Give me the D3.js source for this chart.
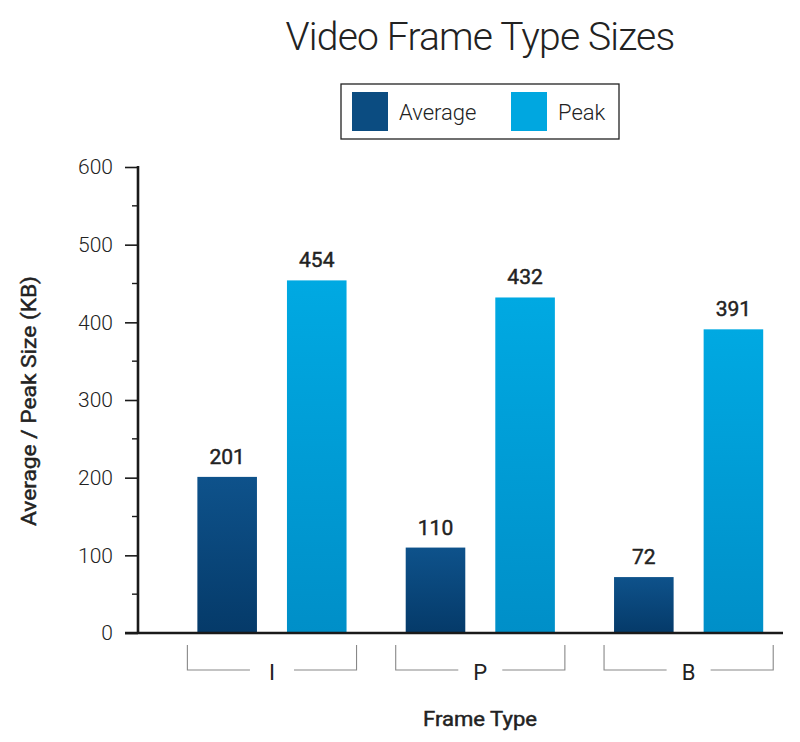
<!DOCTYPE html>
<html>
<head>
<meta charset="utf-8">
<script src="https://cdn.jsdelivr.net/npm/d3@7"></script>
<style>
  html, body { margin: 0; padding: 0; background: #fff; }
  svg text { font-family: "Roboto", "Open Sans", sans-serif; fill: #222; }
  svg text.medium { font-weight: 400; stroke: #222; stroke-width: 0.45px; }
</style>
</head>
<body>
<div id="chart"></div>
<script>
// Video frame type sizes - grouped bar chart
const categories = ['I', 'P', 'B'];
const seriesNames = ['Average', 'Peak'];
const averageValues = [201, 110, 72];
const peakValues = [454, 432, 391];
const yTicks = [0, 100, 200, 300, 400, 500, 600];

(function () {
    const width = 800, height = 742;
    const left = 138, right = 783, top = 167, bottom = 633;

    const svg = d3.select('#chart').append('svg')
        .attr('width', width)
        .attr('height', height);

    const defs = svg.append('defs');
    const grads = [
        { id: 'grad-avg', top: '#0e528b', bottom: '#053a69' },
        { id: 'grad-peak', top: '#00a9e2', bottom: '#008fc8' }
    ];
    grads.forEach(g => {
        const lg = defs.append('linearGradient')
            .attr('id', g.id)
            .attr('x1', 0).attr('y1', 0).attr('x2', 0).attr('y2', 1);
        lg.append('stop').attr('offset', '0%').attr('stop-color', g.top);
        lg.append('stop').attr('offset', '100%').attr('stop-color', g.bottom);
    });

    const rows = categories.map((c, i) => ({
        cat: c,
        values: [
            { key: 'Average', value: averageValues[i] },
            { key: 'Peak', value: peakValues[i] }
        ]
    }));

    const y = d3.scaleLinear().domain([0, 600]).range([bottom, top]);

    const x0 = d3.scaleBand()
        .domain(categories)
        .range([left, right])
        .paddingInner(0.284)
        .paddingOuter(0.19)
        .align(0.75);

    const x1 = d3.scaleBand()
        .domain(seriesNames)
        .range([0, x0.bandwidth()])
        .paddingInner(0.335);

    // title
    svg.append('text')
        .attr('x', 480).attr('y', 50)
        .attr('text-anchor', 'middle')
        .attr('font-size', 39)
        .attr('font-weight', 300)
        .attr('letter-spacing', -0.8)
        .text('Video Frame Type Sizes');

    // legend
    const legend = svg.append('g');
    legend.append('rect')
        .attr('x', 341).attr('y', 84)
        .attr('width', 278).attr('height', 55)
        .attr('fill', '#fff').attr('stroke', '#222').attr('stroke-width', 1.3);
    const legendItems = [
        { name: 'Average', color: '#0b4c81', x: 352 },
        { name: 'Peak', color: '#00a7e0', x: 511 }
    ];
    legendItems.forEach(d => {
        legend.append('rect')
            .attr('x', d.x).attr('y', 92)
            .attr('width', 36).attr('height', 39)
            .attr('fill', d.color);
        legend.append('text')
            .attr('x', d.x + 47).attr('y', 120)
            .attr('font-size', 22)
            .attr('font-weight', 300)
            .text(d.name);
    });

    // y axis
    const yAxis = d3.axisLeft(y)
        .tickValues(yTicks)
        .tickSize(13)
        .tickPadding(12)
        .tickFormat(d3.format('d'));
    const yg = svg.append('g')
        .attr('transform', `translate(${left},0)`)
        .call(yAxis);
    yg.select('.domain').remove();
    yg.selectAll('.tick line').attr('stroke', '#1a1a1a').attr('stroke-width', 1.6);
    yg.selectAll('.tick text')
        .attr('font-family', 'Roboto, sans-serif')
        .attr('font-size', 21)
        .attr('font-weight', 300)
        .attr('fill', '#222');

    const minor = d3.range(50, 600, 100);
    svg.append('g').selectAll('line')
        .data(minor)
        .join('line')
        .attr('x1', left - 6).attr('x2', left)
        .attr('y1', d => y(d)).attr('y2', d => y(d))
        .attr('stroke', '#1a1a1a').attr('stroke-width', 1.4);

    svg.append('line')
        .attr('x1', left).attr('x2', left)
        .attr('y1', top - 1).attr('y2', bottom)
        .attr('stroke', '#1a1a1a').attr('stroke-width', 2.6);

    // y label
    svg.append('text')
        .attr('class', 'medium')
        .attr('transform', `translate(36,401) rotate(-90)`)
        .attr('text-anchor', 'middle')
        .attr('font-size', 20)
        .attr('textLength', 250)
        .attr('lengthAdjust', 'spacingAndGlyphs')
        .text('Average / Peak Size (KB)');

    // bars
    const groups = svg.append('g').selectAll('g.group')
        .data(rows)
        .join('g')
        .attr('class', 'group')
        .attr('transform', d => `translate(${x0(d.cat)},0)`);

    groups.selectAll('rect')
        .data(d => d.values)
        .join('rect')
        .attr('x', d => x1(d.key))
        .attr('y', d => y(d.value))
        .attr('width', x1.bandwidth())
        .attr('height', d => y(0) - y(d.value))
        .attr('fill', d => d.key === 'Average' ? 'url(#grad-avg)' : 'url(#grad-peak)');

    groups.selectAll('text.val')
        .data(d => d.values)
        .join('text')
        .attr('class', 'val medium')
        .attr('x', d => x1(d.key) + x1.bandwidth() / 2)
        .attr('y', d => y(d.value) - 13)
        .attr('text-anchor', 'middle')
        .attr('font-size', 21)
        .text(d => d.value);

    // baseline
    svg.append('line')
        .attr('x1', left - 13).attr('x2', right)
        .attr('y1', bottom).attr('y2', bottom)
        .attr('stroke', '#1a1a1a').attr('stroke-width', 2.6);

    // category brackets
    const bTop = 645, bBot = 670, gap = 22;
    const brackets = svg.append('g').selectAll('g')
        .data(categories)
        .join('g');
    brackets.each(function (c) {
        const g = d3.select(this);
        const a = x0(c) - 10, b = x0(c) + x0.bandwidth() + 10;
        const mid = x0(c) + x0.bandwidth() / 2;
        const path = `M${a},${bTop}V${bBot}H${mid - gap}M${mid + gap},${bBot}H${b}V${bTop}`;
        g.append('path')
            .attr('d', path)
            .attr('fill', 'none')
            .attr('stroke', '#888')
            .attr('stroke-width', 1.1);
        g.append('text')
            .attr('x', mid).attr('y', bBot + 10)
            .attr('text-anchor', 'middle')
            .attr('font-size', 22)
            .attr('font-weight', 400)
            .text(c);
    });

    // x label
    svg.append('text')
        .attr('class', 'medium')
        .attr('x', 480).attr('y', 726)
        .attr('text-anchor', 'middle')
        .attr('font-size', 20)
        .attr('textLength', 114)
        .attr('lengthAdjust', 'spacingAndGlyphs')
        .text('Frame Type');
})();
</script>
</body>
</html>
